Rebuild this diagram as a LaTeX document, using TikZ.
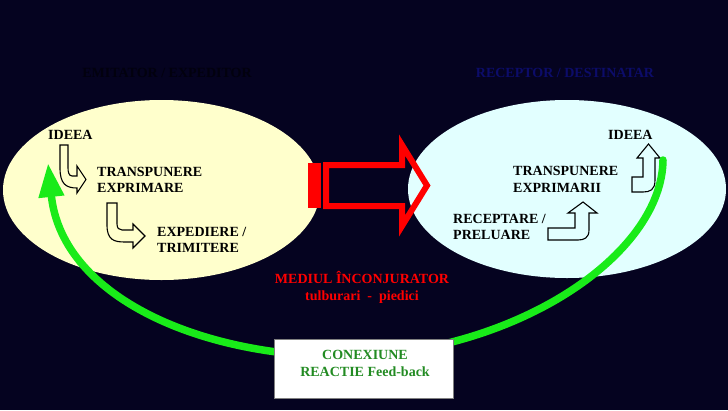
\documentclass[tikz,border=0pt]{standalone}
\usepackage{fontspec}
\setmainfont{Liberation Serif}
\usetikzlibrary{arrows.meta}
\definecolor{bgnavy}{RGB}{5,3,32}
\definecolor{sendfill}{RGB}{255,255,204}
\definecolor{recvfill}{RGB}{226,255,255}
\definecolor{chanred}{RGB}{255,0,0}
\definecolor{fbgreen}{RGB}{25,235,25}
\definecolor{fbtextgreen}{RGB}{34,139,34}
\definecolor{recvnavy}{RGB}{12,12,105}
\definecolor{sendblack}{RGB}{2,1,14}
\begin{document}
\begin{tikzpicture}[x=1pt,y=-1pt,
    lbl/.style={font=\bfseries\fontsize{14}{16.5}\selectfont, align=left, anchor=west, inner sep=0pt},
    title/.style={font=\bfseries\fontsize{14}{16.5}\selectfont, inner sep=0pt},
    bent/.style={draw=black, line width=1.1pt},
    fbbox/.style={draw=gray, line width=0.8pt, fill=white, minimum width=179pt, minimum height=59pt},
    fbtext/.style={font=\bfseries\fontsize{14}{17}\selectfont, text=fbtextgreen, align=center, inner sep=0pt},
    envtext/.style={font=\bfseries\fontsize{14}{17}\selectfont, text=chanred, align=center, inner sep=0pt}]
  \fill[bgnavy] (0,0) rectangle (728,410);
  \useasboundingbox (0,0) rectangle (728,410);

  \fill[sendfill] (161.5,190) ellipse [x radius=158.5pt, y radius=90pt];
  \fill[recvfill] (567,189) ellipse [x radius=159pt, y radius=89pt];

  \node[title, text=sendblack] (sender) at (167,73) {EMITATOR / EXPEDITOR};
  \node[title, text=recvnavy] (receiver) at (565,73) {RECEPTOR / DESTINATAR};

  % emitator
  \node[lbl] (ideaL) at (48,135) {IDEEA};
  \node[lbl] (transpL) at (97,180) {TRANSPUNERE\\EXPRIMARE};
  \node[lbl] (sendL) at (157,240) {EXPEDIERE /\\TRIMITERE};
  \draw[bent] (60,145) -- (60,168) .. controls (60,184) and (66,188) .. (77,188)
    -- (77,193) -- (86,179.5) -- (77,166) -- (77,176) -- (72,176)
    .. controls (69,176) and (68,172) .. (68,168) -- (68,145) -- cycle;
  \draw[bent] (107,203) -- (107,225) .. controls (107,240) and (114,242) .. (125,242)
    -- (133,242) -- (133,248) -- (145,236) -- (133,224) -- (133,230) -- (122,230)
    .. controls (119,230) and (117,228) .. (117,224) -- (117,203) -- cycle;

  % receptor
  \node[lbl] (ideaR) at (608,135) {IDEEA};
  \node[lbl] (transpR) at (513,179.5) {TRANSPUNERE\\EXPRIMARII};
  \node[lbl] (recvR) at (453,227) {RECEPTARE /\\PRELUARE};
  \draw[bent] (632,177) -- (643,177) -- (643,158) -- (637,158) -- (648.5,144)
    -- (660,158) -- (655,158) -- (655,180) .. controls (655,190) and (650,192) .. (643,192)
    -- (632,192) -- cycle;
  \draw[bent] (548,228) -- (575,228) -- (575,213) -- (568,213) -- (583,202)
    -- (597,213) -- (589,213) -- (589,230) .. controls (589,238) and (584,240) .. (578,240)
    -- (548,240) -- cycle;

  % canal
  \fill[chanred] (308,163) rectangle (321,208);
  \draw[chanred, line width=6pt] (326,165) -- (402,165) -- (402,145) -- (427,185.5)
    -- (402,226) -- (402,206) -- (326,206) -- cycle;

  \node[envtext] (env) at (362,287.5) {MEDIUL ÎNCONJURATOR\\tulburari \ - \ piedici};

  % feed-back
  \coordinate (fbstart) at (663,160);
  \coordinate (fbend) at (48,163);
  \draw[fbgreen, line width=7.5pt, line cap=round, -{Triangle[length=34pt,width=24pt]}]
    (fbstart) .. controls (662,250) and (530,345) .. (365,356)
    .. controls (210,362) and (62,300) .. (fbend);
  \node[fbbox] (fb) at (363.5,368.5) {};
  \node[fbtext] (fbtxt) at (365,363.5) {CONEXIUNE\\REACTIE Feed-back};
\end{tikzpicture}
\end{document}
